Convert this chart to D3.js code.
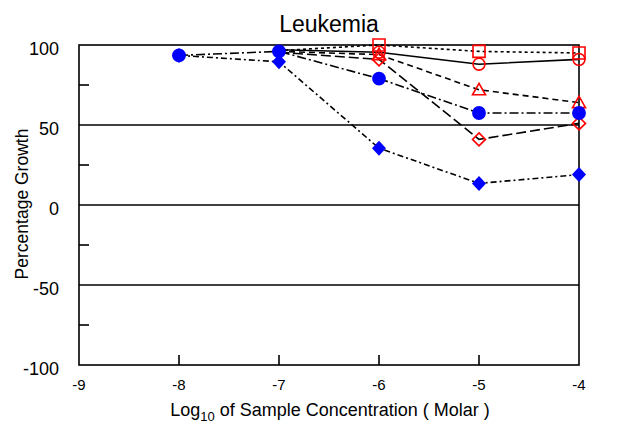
<!DOCTYPE html>
<html>
<head>
<meta charset="utf-8">
<script src="https://cdn.jsdelivr.net/npm/d3@7"></script>
<style>
  body { margin: 0; background: #fff; }
  text { font-family: "Liberation Sans", Arial, sans-serif; }
</style>
</head>
<body>
<svg></svg>
<script>
const w = 644;
const h = 424;
const svg = d3.select('svg').attr('width', w).attr('height', h);

// concentrations (log10 molar)
const blueX = [-8, -7, -6, -5, -4];
const redX = [-7, -6, -5, -4];

// percentage growth
const blueCircle = [93.5, 96, 79, 57.5, 57.5];
const blueDiamond = [93.5, 89.5, 35.5, 13.5, 19];
const redSquare = [96.5, 100, 96, 95];
const redCircle = [97, 95.5, 88, 91];
const redTriangle = [96, 94, 72, 64];
const redDiamond = [95.5, 91, 41, 51];

const xTicks = [-9, -8, -7, -6, -5, -4];
const yTicks = [-100, -50, 0, 50, 100];
const yMinor = [-75, -25, 25, 75];

const padL = 79, padR = 579, padT = 45, padB = 365;

const x = d3.scaleLinear().domain([-9, -4]).range([padL, padR]);
const y = d3.scaleLinear().domain([-100, 100]).range([padB, padT]);

// frame + grid
svg.append('rect')
  .attr('x', padL).attr('y', padT)
  .attr('width', padR - padL).attr('height', padB - padT)
  .attr('fill', 'none').attr('stroke', '#000').attr('stroke-width', 1.6);

svg.selectAll('.grid')
  .data([-50, 0, 50])
  .enter()
  .append('line')
  .attr('x1', padL).attr('x2', padR)
  .attr('y1', (d) => y(d)).attr('y2', (d) => y(d))
  .attr('stroke', '#000').attr('stroke-width', 1.6);

svg.selectAll('.ymin')
  .data(yMinor)
  .enter()
  .append('line')
  .attr('x1', padL).attr('x2', padL + 10)
  .attr('y1', (d) => y(d)).attr('y2', (d) => y(d))
  .attr('stroke', '#000').attr('stroke-width', 1.6);

svg.selectAll('.xtick')
  .data(xTicks.slice(1, -1))
  .enter()
  .append('line')
  .attr('x1', (d) => x(d)).attr('x2', (d) => x(d))
  .attr('y1', padB).attr('y2', padB - 10)
  .attr('stroke', '#000').attr('stroke-width', 1.6);

// tick labels
svg.selectAll('.ylab')
  .data(yTicks)
  .enter()
  .append('text')
  .attr('x', padL - 20)
  .attr('y', (d) => y(d) + 10)
  .attr('text-anchor', 'end')
  .attr('font-size', 18)
  .text((d) => d);

svg.selectAll('.xlab')
  .data(xTicks)
  .enter()
  .append('text')
  .attr('x', (d) => x(d))
  .attr('y', 390)
  .attr('text-anchor', 'middle')
  .attr('font-size', 15)
  .text((d) => d);

// titles
svg.append('text')
  .attr('x', 329).attr('y', 32)
  .attr('text-anchor', 'middle')
  .attr('font-size', 23)
  .text('Leukemia');

svg.append('text')
  .attr('transform', 'translate(28, 204) rotate(-90)')
  .attr('text-anchor', 'middle')
  .attr('font-size', 17.5)
  .text('Percentage Growth');

const xl = svg.append('text')
  .attr('x', 330).attr('y', 416)
  .attr('text-anchor', 'middle')
  .attr('font-size', 18);
xl.append('tspan').text('Log');
xl.append('tspan').attr('font-size', 13).attr('dy', 5).text('10');
xl.append('tspan').attr('dy', -5).text(' of Sample Concentration ( Molar )');

// series (red markers at -7 sit under the blue circle in the original)
const series = [
  { xs: redX, ys: redSquare, dash: '3,3', shape: 'square', color: 'red', fill: false, skip: 1 },
  { xs: redX, ys: redCircle, dash: null, shape: 'circle', color: 'red', fill: false, skip: 1 },
  { xs: redX, ys: redTriangle, dash: '6,4', shape: 'triangle', color: 'red', fill: false, skip: 1 },
  { xs: redX, ys: redDiamond, dash: '10,4', shape: 'diamond', color: 'red', fill: false, skip: 1 },
  { xs: blueX, ys: blueCircle, dash: '9,3,2,3', shape: 'circle', color: 'blue', fill: true, skip: 0 },
  { xs: blueX, ys: blueDiamond, dash: '6,3,2,3', shape: 'diamond', color: 'blue', fill: true, skip: 0 },
];

const line = d3.line().x((d) => x(d[0])).y((d) => y(d[1]));

series.forEach((s) => {
  const pts = s.xs.map((v, i) => [v, s.ys[i]]);
  svg.append('path')
    .attr('d', line(pts))
    .attr('fill', 'none')
    .attr('stroke', '#000')
    .attr('stroke-width', 1.6)
    .attr('stroke-dasharray', s.dash);
});

function marker(shape, filled) {
  if (shape === 'circle') {
    return d3.symbol().type(d3.symbolCircle).size(filled ? 150 : 110)();
  }
  if (shape === 'square') {
    return 'M-6,-6L6,-6L6,6L-6,6Z';
  }
  if (shape === 'triangle') {
    return 'M0,-6.5L6.5,5L-6.5,5Z';
  }
  return filled ? 'M0,-7.5L7,0L0,7.5L-7,0Z' : 'M0,-6.5L6.5,0L0,6.5L-6.5,0Z';
}

series.forEach((s) => {
  svg.selectAll(null)
    .data(s.xs.map((v, i) => [v, s.ys[i]]).slice(s.skip))
    .enter()
    .append('path')
    .attr('transform', (d) => `translate(${x(d[0])},${y(d[1])})`)
    .attr('d', marker(s.shape, s.fill))
    .attr('fill', s.fill ? s.color : 'none')
    .attr('stroke', s.color)
    .attr('stroke-width', s.fill ? 0 : 1.6);
});
</script>
</body>
</html>
